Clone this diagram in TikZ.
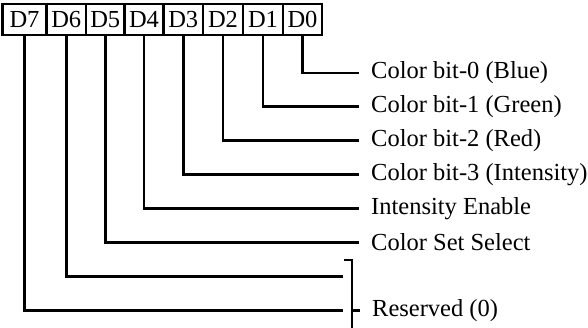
\documentclass[tikz,border=0pt]{standalone}
\usepackage{fontspec}
\setmainfont{Liberation Serif}
\begin{document}
\begin{tikzpicture}[x=1pt,y=1pt,
  bitbox/.style={draw, line width=2.4pt, minimum height=31pt, inner sep=0pt, outer sep=0pt,
    font=\fontsize{24.5}{27}\selectfont},
  conn/.style={line width=2.8pt},
  lbl/.style={anchor=west, inner xsep=12pt, inner ysep=0pt, font=\fontsize{24.5}{27}\selectfont}]
\useasboundingbox (0,0) rectangle (588,-328);
% register boxes
\node[bitbox, minimum width=44pt]   (d7) at (24.5,-19.5)  {D7};
\node[bitbox, minimum width=39.5pt] (d6) at (66.25,-19.5) {D6};
\node[bitbox, minimum width=38.5pt] (d5) at (105.25,-19.5) {D5};
\node[bitbox, minimum width=39pt]   (d4) at (144,-19.5)   {D4};
\node[bitbox, minimum width=39.5pt] (d3) at (183.25,-19.5) {D3};
\node[bitbox, minimum width=40pt]   (d2) at (223,-19.5)   {D2};
\node[bitbox, minimum width=40pt]   (d1) at (263,-19.5)   {D1};
\node[bitbox, minimum width=39pt]   (d0) at (302.5,-19.5) {D0};
% labels
\node[lbl] (l0) at (359,-73)    {Color bit-0 (Blue)};
\node[lbl] (l1) at (359,-106.9) {Color bit-1 (Green)};
\node[lbl] (l2) at (359,-140.8) {Color bit-2 (Red)};
\node[lbl] (l3) at (359,-174.7) {Color bit-3 (Intensity)};
\node[lbl] (l4) at (359,-208.6) {Intensity Enable};
\node[lbl] (l5) at (359,-242.5) {Color Set Select};
\node[lbl] (l7) at (360,-310.3) {Reserved (0)};
\coordinate (r6) at (343,-276.4);
\coordinate (r7) at (343,-310.3);
% connectors
\draw[conn] (d0.south) |- (l0.west);
\draw[conn] (d1.south) |- (l1.west);
\draw[conn] (d2.south) |- (l2.west);
\draw[conn] (d3.south) |- (l3.west);
\draw[conn] (d4.south) |- (l4.west);
\draw[conn] (d5.south) |- (l5.west);
\draw[conn] (d6.south) |- (r6);
\draw[conn] (d7.south) |- (r7);
% bracket
\draw[conn] (344,-260) -- (352,-260) -- (352,-328);
\draw[conn] (352,-310.3) -- (l7.west);
\end{tikzpicture}
\end{document}
